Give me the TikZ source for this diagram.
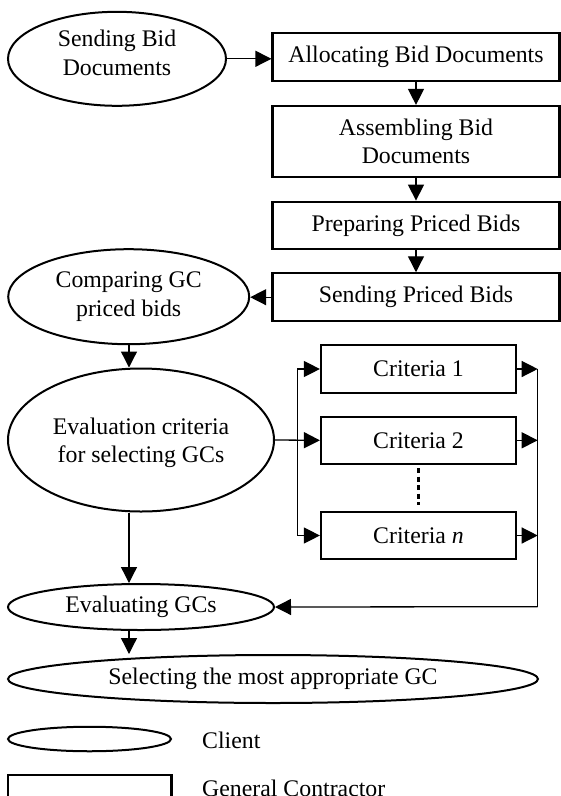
\documentclass[tikz,border=0pt]{standalone}
\usepackage{fontspec}
\setmainfont{Liberation Serif}
\usetikzlibrary{arrows.meta,shapes.geometric}
\begin{document}
\begin{tikzpicture}[x=1pt,y=-1pt,
  font=\fontsize{23.8}{28.3}\selectfont,
  gcbox/.style={draw,line width=2.2pt,rectangle,inner sep=0pt,align=center},
  client/.style={draw,line width=2pt,ellipse,inner sep=0pt,align=center},
  conn/.style={line width=1.3pt},
  arr/.style={conn,-{Triangle[length=16pt,width=16pt]}}]
\path[use as bounding box] (0,0) rectangle (561,796);
\clip (0,0) rectangle (561,796);
\fill[white] (0,0) rectangle (561,796);
% client ellipses
\node[client,minimum width=218pt,minimum height=94pt,text depth=12pt] (e1) at (117,58.8) {Sending Bid\\Documents};
\node[client,minimum width=241pt,minimum height=95pt] (comp) at (128.7,296.7) {Comparing GC\\priced bids};
\node[client,minimum width=266pt,minimum height=143pt,text depth=0pt] (evalc) at (141,440) {Evaluation criteria\\for selecting GCs};
\node[client,minimum width=266pt,minimum height=46pt] (evalg) at (141,607) {Evaluating GCs};
\node[client,minimum width=530pt,minimum height=48pt] (sel) at (273,679) {Selecting the most appropriate GC};
% GC boxes
\node[gcbox,minimum width=287pt,minimum height=48pt] (alloc) at (416,57.3) {Allocating Bid Documents};
\node[gcbox,minimum width=287pt,minimum height=71pt] (assem) at (416,141.5) {Assembling Bid\\Documents};
\node[gcbox,minimum width=287pt,minimum height=47.6pt] (prep) at (416,225.5) {Preparing Priced Bids};
\node[gcbox,minimum width=287pt,minimum height=47.7pt] (send) at (416,297.2) {Sending Priced Bids};
\node[gcbox,minimum width=195pt,minimum height=47.7pt] (crit1) at (418.5,369) {Criteria 1};
\node[gcbox,minimum width=195pt,minimum height=47.3pt] (crit2) at (418.5,440.3) {Criteria 2};
\node[gcbox,minimum width=195pt,minimum height=47.6pt] (critn) at (418.5,535.5) {Criteria \textit{n}};
% helper coordinates
\coordinate (bl) at (297.3,440);
\coordinate (br) at (537.7,440);
\coordinate (bb) at (537.7,606.7);
\coordinate (vx) at (129,0);
\coordinate (d1) at (418.5,468);
\coordinate (d2) at (418.5,505);
% connectors
\draw[arr] (e1.east) -- (e1.east -| alloc.west);
\draw[arr] (alloc.south) -- (assem.north);
\draw[arr] (assem.south) -- (prep.north);
\draw[arr] (prep.south) -- (send.north);
\draw[arr] (send.west) -- (send.west -| comp.east);
\draw[arr] (vx |- comp.south) -- (vx |- evalc.north);
\draw[arr] (vx |- evalc.south) -- (vx |- evalg.north);
\draw[arr] (vx |- evalg.south) -- (vx |- sel.north);
\draw[arr] (evalc.east) -- (crit2.west);
\draw[conn] (bl |- crit1.west) -- (bl |- critn.west);
\draw[arr] (bl |- crit1.west) -- (crit1.west);
\draw[arr] (bl |- critn.west) -- (critn.west);
\draw[arr] (crit1.east) -- (br |- crit1.east);
\draw[arr] (crit2.east) -- (br |- crit2.east);
\draw[arr] (critn.east) -- (br |- critn.east);
\draw[conn] (br |- crit1.east) -- (bb);
\draw[arr] (bb) -- (evalg.east);
\draw[line width=2.2pt,dash pattern=on 5pt off 3.5pt] (d1) -- (d2);
% legend
\node[client,minimum width=163pt,minimum height=24.5pt] (lc) at (89.5,739) {};
\node[anchor=base west,inner sep=0pt] (lct) at (202,748.5) {Client};
\draw[line width=2.2pt] (8.3,775) rectangle (171.5,820);
\node[anchor=base west,inner sep=0pt] (lgt) at (202,796) {General Contractor};
\end{tikzpicture}
\end{document}
